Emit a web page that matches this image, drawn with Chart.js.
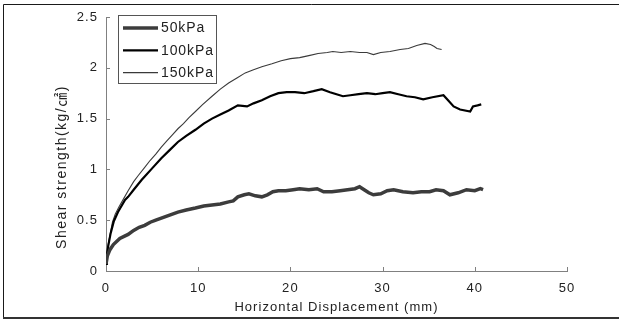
<!DOCTYPE html>
<html>
<head>
<meta charset="utf-8">
<script src="https://cdn.jsdelivr.net/npm/chart.js@4.4.1/dist/chart.umd.min.js"></script>
<style>
html,body{margin:0;padding:0;background:#fff;}
#wrap{position:relative;width:619px;height:321px;}
</style>
</head>
<body>
<div id="wrap"><canvas id="c" width="619" height="321"></canvas></div>
<script>
// ---- data ----
const seriesLabels = ['50kPa', '100kPa', '150kPa'];
const xTickValues = [0, 10, 20, 30, 40, 50];
const yTickValues = [0, 0.5, 1, 1.5, 2, 2.5];
const yTickLabels = ['0', '0.5', '1', '1.5', '2', '2.5'];
const xTitle = 'Horizontal Displacement (mm)';
const yTitle = 'Shear strength(kg/㎠)';

const disp50 = [0,0.15,0.43,0.8,1.5,2.4,3.0,3.6,4.2,4.8,5.4,6.0,6.9,7.8,8.7,9.7,10.6,11.5,12.4,13.3,13.8,14.3,15.0,15.5,16.2,16.9,17.5,18.1,18.7,19.5,20.3,21.0,22.0,22.9,23.6,24.5,25.4,26.2,27.0,27.5,28.0,28.5,29.0,29.8,30.5,31.2,32.2,33.3,34.2,35.1,35.8,36.6,37.3,38.2,39.1,40.0,40.6,40.9];
const shear50 = [0.07,0.15,0.21,0.26,0.32,0.36,0.40,0.43,0.45,0.48,0.50,0.52,0.55,0.58,0.60,0.62,0.64,0.65,0.66,0.68,0.69,0.73,0.75,0.76,0.74,0.73,0.75,0.78,0.79,0.79,0.80,0.81,0.80,0.81,0.78,0.78,0.79,0.80,0.81,0.83,0.80,0.77,0.75,0.76,0.79,0.80,0.78,0.77,0.78,0.78,0.80,0.79,0.75,0.77,0.80,0.79,0.81,0.80];

const disp100 = [0,0.1,0.25,0.5,0.85,1.3,2.06,2.4,3.0,3.9,4.2,5.0,6.0,6.9,7.8,8.7,9.7,10.6,11.5,12.4,13.3,14.3,15.3,16.0,16.9,17.8,18.7,19.6,20.5,21.5,22.5,23.4,24.3,25.0,25.7,26.5,27.4,28.3,29.2,30.0,30.8,31.7,32.6,33.5,34.4,35.4,36.6,37.1,37.7,38.4,39.5,39.8,40.3,40.7];
const shear100 = [0.07,0.16,0.25,0.37,0.49,0.58,0.70,0.73,0.80,0.90,0.93,1.01,1.11,1.19,1.27,1.33,1.39,1.45,1.50,1.54,1.58,1.63,1.62,1.65,1.68,1.72,1.75,1.76,1.76,1.75,1.77,1.79,1.76,1.74,1.72,1.73,1.74,1.75,1.74,1.75,1.76,1.74,1.72,1.71,1.69,1.71,1.73,1.68,1.62,1.59,1.57,1.62,1.63,1.64];

const disp150 = [0,0.1,0.25,0.45,0.7,1.0,1.4,1.9,2.4,3.0,3.5,4.2,4.8,5.4,6.0,6.6,7.2,7.8,8.4,9.0,9.7,10.5,11.5,12.4,13.3,14.2,15.1,16.0,16.9,18.0,19.0,20.0,21.0,22.0,23.0,24.0,24.6,25.5,26.5,27.5,28.3,29.0,29.8,30.8,31.9,32.8,33.7,34.6,35.2,35.6,35.9,36.4];
const shear150 = [0.07,0.17,0.27,0.36,0.48,0.56,0.63,0.71,0.79,0.88,0.94,1.02,1.09,1.15,1.22,1.28,1.34,1.40,1.45,1.51,1.57,1.64,1.72,1.79,1.85,1.90,1.95,1.98,2.01,2.04,2.07,2.09,2.10,2.12,2.14,2.15,2.16,2.15,2.16,2.15,2.15,2.13,2.15,2.16,2.18,2.19,2.22,2.24,2.23,2.21,2.19,2.18];

function pts(xs, ys){ return xs.map((x,i)=>({x:x, y:ys[i]})); }

const FONT = '"Liberation Sans", Arial, "Noto Sans CJK KR", sans-serif';
const SPACING = '1.05px';

const decor = {
  id: 'decor',
  beforeLayout(chart){ chart.ctx.letterSpacing = SPACING; },
  beforeDraw(chart){ chart.ctx.letterSpacing = SPACING; },
  afterDraw(chart){
    const ctx = chart.ctx;
    const xs = chart.scales.x, ys = chart.scales.y;
    ctx.save();
    // inward tick marks
    ctx.strokeStyle = '#808080';
    ctx.lineWidth = 1;
    ctx.beginPath();
    xTickValues.forEach(v=>{
      const px = Math.round(xs.getPixelForValue(v)) + 0.5;
      if (v===0) return;
      ctx.moveTo(px, ys.bottom); ctx.lineTo(px, ys.bottom - 4);
    });
    yTickValues.forEach(v=>{
      const py = Math.round(ys.getPixelForValue(v)) + 0.5;
      if (v===0) return;
      ctx.moveTo(xs.left, py); ctx.lineTo(xs.left + 4, py);
    });
    ctx.stroke();

    // y title
    ctx.fillStyle = '#222';
    ctx.font = '14px ' + FONT;
    ctx.letterSpacing = '1.5px';
    ctx.textAlign = 'center';
    ctx.textBaseline = 'middle';
    ctx.translate(62, 167);
    ctx.rotate(-Math.PI/2);
    ctx.fillText(yTitle, 0, 0);
    ctx.restore();

    // legend
    ctx.save();
    const lx = xs.left + 12, ly = ys.top - 2;
    ctx.strokeStyle = '#555';
    ctx.lineWidth = 1;
    ctx.strokeRect(lx + 0.5, ly + 0.5, 98, 68);
    ctx.font = '14px ' + FONT;
    ctx.letterSpacing = '0.9px';
    ctx.textAlign = 'left';
    ctx.textBaseline = 'middle';
    chart.data.datasets.forEach((ds, i)=>{
      const cy = ly + 13 + i * 22.3;
      ctx.strokeStyle = ds.borderColor;
      ctx.lineWidth = ds.borderWidth;
      ctx.beginPath();
      ctx.moveTo(lx + 5, cy); ctx.lineTo(lx + 40, cy);
      ctx.stroke();
      ctx.fillStyle = '#222';
      ctx.fillText(ds.label, lx + 43, cy + 0.5);
    });
    ctx.restore();

    // outer frame
    ctx.save();
    ctx.strokeStyle = '#1a1a1a';
    ctx.lineWidth = 1;
    ctx.beginPath();
    ctx.moveTo(3.5, 319); ctx.lineTo(3.5, 4.5); ctx.lineTo(619, 4.5);
    ctx.stroke();
    ctx.lineWidth = 2;
    ctx.strokeStyle = '#333';
    ctx.beginPath();
    ctx.moveTo(3, 318); ctx.lineTo(619, 318);
    ctx.stroke();
    ctx.restore();
  }
};

new Chart(document.getElementById('c'), {
  type: 'scatter',
  data: {
    datasets: [
      {label: seriesLabels[0], data: pts(disp50, shear50), showLine: true, borderColor: '#3c3c3c', borderWidth: 3.5, pointRadius: 0, tension: 0},
      {label: seriesLabels[1], data: pts(disp100, shear100), showLine: true, borderColor: '#000000', borderWidth: 2.2, pointRadius: 0, tension: 0},
      {label: seriesLabels[2], data: pts(disp150, shear150), showLine: true, borderColor: '#3a3a3a', borderWidth: 1.1, pointRadius: 0, tension: 0}
    ]
  },
  options: {
    responsive: false,
    animation: false,
    devicePixelRatio: 1,
    layout: {padding: {left: 0, top: 17, right: 52, bottom: 0}},
    plugins: {legend: {display: false}, tooltip: {enabled: false}},
    scales: {
      x: {
        type: 'linear', min: 0, max: 50,
        afterBuildTicks(s){ s.ticks = xTickValues.map(v=>({value:v})); },
        afterFit(s){ s.height = 50; },
        grid: {display: true, drawOnChartArea: false, drawTicks: false},
        border: {display: true, color: '#808080', width: 1},
        ticks: {padding: 10, color: '#222', font: {family: FONT, size: 13}, maxRotation: 0,
                callback: (v)=>String(v)},
        title: {display: true, text: xTitle, color: '#222', font: {family: FONT, size: 13}, padding: {top: 0, bottom: 6}}
      },
      y: {
        type: 'linear', min: 0, max: 2.5,
        afterBuildTicks(s){ s.ticks = yTickValues.map(v=>({value:v})); },
        afterFit(s){ s.width = 106; },
        grid: {display: true, drawOnChartArea: false, drawTicks: false},
        border: {display: true, color: '#808080', width: 1},
        ticks: {padding: 8, color: '#222', font: {family: FONT, size: 13},
                callback: (v, i)=>yTickLabels[yTickValues.indexOf(v)]}
      }
    }
  },
  plugins: [decor]
});
</script>
</body>
</html>
